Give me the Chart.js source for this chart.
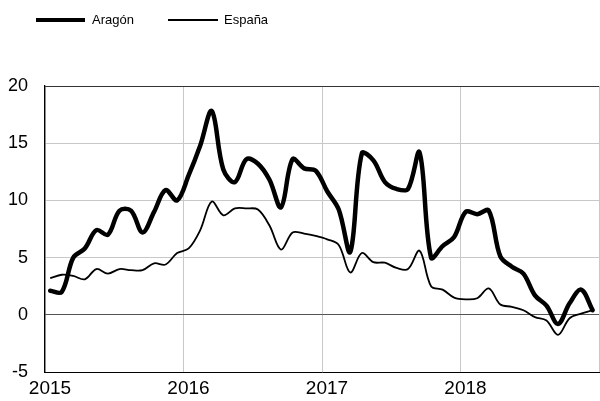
<!DOCTYPE html>
<html lang="es">
<head>
<meta charset="utf-8">
<title>Aragón / España</title>
<script src="https://cdn.jsdelivr.net/npm/chart.js@4.4.1/dist/chart.umd.min.js"></script>
<style>
  html, body { margin: 0; padding: 0; background: #fff; }
  .wrap { position: relative; width: 600px; height: 401px; overflow: hidden; }
  #chart { position: absolute; left: 0; top: 0; }
  .leg { position: absolute; top: 12px; font: 13px "Liberation Sans", Arial, sans-serif; color: #000; line-height: 16px; }
  .leg i { position: absolute; top: 8px; width: 49px; background: #000; }
  .leg span { position: absolute; white-space: nowrap; }
</style>
</head>
<body>
<div class="wrap">
  <canvas id="chart" width="600" height="401"></canvas>
  <div class="leg" style="left:36px"><i style="height:4px;top:6px"></i><span style="left:56px">Aragón</span></div>
  <div class="leg" style="left:168px"><i style="height:2px;top:7px;width:50px"></i><span style="left:56px">España</span></div>
</div>
<script>
/* ---------- datos (mensuales, ene 2015 – dic 2018) ---------- */
const YEAR_LABELS = ["2015", "2016", "2017", "2018"];

const ARAGON = [
  2.1, 2.0, 5.0, 5.8, 7.4, 7.0, 9.1, 9.1, 7.2, 9.0, 10.9, 10.0,
  12.2, 14.8, 17.8, 12.7, 11.6, 13.6, 13.2, 11.8, 9.4, 13.6, 12.8, 12.6,
  10.8, 9.2, 5.5, 14.1, 13.5, 11.6, 11.0, 11.0, 14.2, 5.0, 6.0, 6.8,
  9.0, 8.8, 9.1, 5.1, 4.2, 3.6, 1.7, 0.8, -0.8, 1.0, 2.2, 0.4,
];

const ESPANA = [
  3.2, 3.5, 3.4, 3.1, 4.0, 3.6, 4.0, 3.9, 3.9, 4.5, 4.4, 5.4,
  5.8, 7.4, 9.9, 8.7, 9.3, 9.3, 9.2, 7.8, 5.7, 7.2, 7.1, 6.9,
  6.6, 6.1, 3.7, 5.4, 4.6, 4.55, 4.1, 4.0, 5.6, 2.5, 2.2, 1.5,
  1.35, 1.45, 2.3, 0.9, 0.7, 0.4, -0.2, -0.5, -1.75, -0.3, 0.1, 0.4,
];

/* ---------- estilo ---------- */
const FONT = "'Liberation Sans', Arial, sans-serif";
const GRID = "#c8c8c8";
const X_SHIFT = 0.45; // los puntos caen un poco a la derecha del inicio de mes

const toPoints = (arr) => arr.map((v, i) => ({ x: i + X_SHIFT, y: v }));

new Chart(document.getElementById("chart"), {
  type: "line",
  data: {
    datasets: [
      { label: "Aragón", data: toPoints(ARAGON), borderColor: "#000", borderWidth: 4.5,
        pointRadius: 0, tension: 0.35, fill: false, borderCapStyle: "round", borderJoinStyle: "round" },
      { label: "España", data: toPoints(ESPANA), borderColor: "#000", borderWidth: 1.8,
        pointRadius: 0, tension: 0.35, fill: false, borderJoinStyle: "round" },
    ],
  },
  options: {
    responsive: false, animation: false, devicePixelRatio: 1,
    layout: { padding: { top: 86, right: 1, left: 0, bottom: 0 } },
    plugins: { legend: { display: false }, tooltip: { enabled: false } },
    scales: {
      x: {
        type: "linear", min: 0, max: 48,
        afterBuildTicks: (s) => { s.ticks = [0, 12, 24, 36, 48].map((v) => ({ value: v })); },
        // pas de marge latérale réservée aux libellés : le cadre va jusqu'au bord
        afterFit: (s) => { s.height = 29; s.paddingLeft = 0; s.paddingRight = 0; },
        ticks: {
          autoSkip: false, maxRotation: 0, labelOffset: 5, padding: 5,
          color: "#000", font: { family: FONT, size: 19 },
          callback: (v) => YEAR_LABELS[v / 12] ?? "",
        },
        grid: { color: GRID, drawTicks: false },
        border: { color: "#000", width: 1 },
      },
      y: {
        min: -5, max: 20,
        afterFit: (s) => { s.width = 45; },
        ticks: { stepSize: 5, padding: 17, color: "#000", font: { family: FONT, size: 18 } },
        grid: {
          drawTicks: false,
          color: (c) => (c.tick.value === 0 ? "#555" : c.tick.value === 20 ? "#333" : GRID),
        },
        border: { color: "#000", width: 1.3 },
      },
    },
  },
});
</script>
</body>
</html>
